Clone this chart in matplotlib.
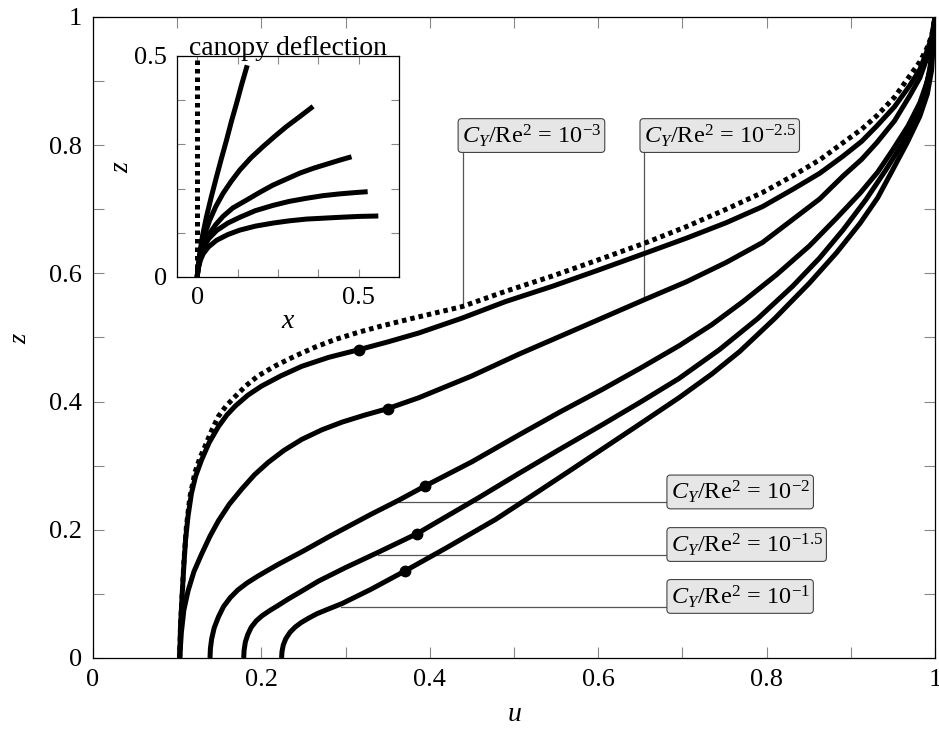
import matplotlib
matplotlib.use("Agg")
import matplotlib.pyplot as plt

plt.rcParams['font.family'] = ['Liberation Serif', 'DejaVu Serif']
plt.rcParams['mathtext.fontset'] = 'custom'
plt.rcParams['mathtext.rm'] = 'Liberation Serif'
plt.rcParams['mathtext.it'] = 'Liberation Serif:italic'
plt.rcParams['mathtext.bf'] = 'Liberation Serif:bold'

# velocity profiles u(z)
u_rigid = [0.103, 0.104, 0.106, 0.108, 0.111, 0.115, 0.121, 0.127, 0.133, 0.141, 0.149, 0.158, 0.169,
           0.182, 0.196, 0.217, 0.240, 0.264, 0.288, 0.315, 0.343, 0.380, 0.438, 0.490, 0.546, 0.600,
           0.657, 0.705, 0.752, 0.795, 0.831, 0.863, 0.891, 0.913, 0.931, 0.952, 0.970, 0.982, 0.990,
           0.996, 1.0]
z_rigid = [0.0, 0.05, 0.10, 0.15, 0.205, 0.250, 0.289, 0.312, 0.330, 0.355, 0.377, 0.393, 0.408,
           0.425, 0.440, 0.456, 0.471, 0.485, 0.497, 0.508, 0.518, 0.530, 0.548, 0.572, 0.596, 0.621,
           0.648, 0.673, 0.700, 0.726, 0.752, 0.777, 0.804, 0.825, 0.846, 0.875, 0.908, 0.930, 0.950,
           0.970, 1.0]

u_m30 = [0.103, 0.104, 0.106, 0.108, 0.110, 0.113, 0.117, 0.122, 0.129, 0.138, 0.149, 0.159, 0.169,
         0.184, 0.200, 0.223, 0.248, 0.280, 0.316, 0.350, 0.387, 0.438, 0.490, 0.546, 0.600, 0.657,
         0.705, 0.752, 0.795, 0.831, 0.863, 0.891, 0.913, 0.931, 0.952, 0.970, 0.982, 0.990, 0.996, 1.0]
z_m30 = [0.0, 0.05, 0.10, 0.145, 0.185, 0.222, 0.257, 0.284, 0.309, 0.336, 0.361, 0.379, 0.393,
         0.410, 0.424, 0.440, 0.455, 0.469, 0.481, 0.493, 0.507, 0.530, 0.556, 0.580, 0.605, 0.632,
         0.655, 0.679, 0.704, 0.731, 0.756, 0.783, 0.806, 0.830, 0.860, 0.893, 0.918, 0.945, 0.968, 1.0]

u_m25 = [0.103, 0.105, 0.108, 0.113, 0.120, 0.129, 0.139, 0.149, 0.162, 0.177, 0.192, 0.208, 0.227,
         0.248, 0.272, 0.296, 0.323, 0.350, 0.387, 0.450, 0.506, 0.585, 0.655, 0.705, 0.752, 0.795,
         0.831, 0.863, 0.891, 0.913, 0.931, 0.952, 0.970, 0.982, 0.990, 0.996, 1.0]
z_m25 = [0.0, 0.04, 0.075, 0.105, 0.135, 0.162, 0.190, 0.214, 0.240, 0.264, 0.286, 0.305, 0.324,
         0.341, 0.356, 0.368, 0.379, 0.389, 0.406, 0.440, 0.474, 0.519, 0.559, 0.587, 0.617, 0.648,
         0.684, 0.716, 0.752, 0.778, 0.804, 0.838, 0.877, 0.905, 0.934, 0.962, 1.0]

u_m20 = [0.139, 0.1395, 0.141, 0.144, 0.149, 0.155, 0.163, 0.172, 0.183, 0.195, 0.208, 0.220, 0.250,
         0.280, 0.330, 0.363, 0.394, 0.450, 0.506, 0.555, 0.605, 0.650, 0.696, 0.735, 0.772, 0.812,
         0.851, 0.883, 0.911, 0.932, 0.950, 0.968, 0.982, 0.991, 0.996, 1.0]
z_m20 = [0.0, 0.015, 0.03, 0.047, 0.064, 0.080, 0.094, 0.106, 0.117, 0.127, 0.137, 0.146, 0.167,
         0.189, 0.224, 0.246, 0.268, 0.306, 0.348, 0.384, 0.419, 0.452, 0.487, 0.520, 0.556, 0.598,
         0.643, 0.686, 0.725, 0.758, 0.793, 0.830, 0.866, 0.900, 0.934, 1.0]

u_m15 = [0.179, 0.1795, 0.181, 0.184, 0.188, 0.194, 0.201, 0.210, 0.220, 0.232, 0.245, 0.268, 0.300,
         0.339, 0.385, 0.411, 0.458, 0.506, 0.555, 0.605, 0.650, 0.696, 0.744, 0.790, 0.831, 0.863,
         0.891, 0.918, 0.942, 0.960, 0.974, 0.986, 0.994, 1.0]
z_m15 = [0.0, 0.012, 0.025, 0.037, 0.048, 0.058, 0.066, 0.074, 0.082, 0.092, 0.102, 0.120, 0.141,
         0.165, 0.194, 0.214, 0.250, 0.288, 0.326, 0.364, 0.399, 0.436, 0.481, 0.530, 0.580, 0.624,
         0.668, 0.715, 0.762, 0.800, 0.834, 0.875, 0.917, 1.0]

u_m10 = [0.224, 0.2245, 0.226, 0.229, 0.234, 0.240, 0.247, 0.256, 0.266, 0.277, 0.296, 0.330, 0.371,
         0.420, 0.478, 0.520, 0.565, 0.605, 0.645, 0.696, 0.735, 0.768, 0.810, 0.851, 0.883, 0.911,
         0.932, 0.950, 0.967, 0.982, 0.991, 0.996, 1.0]
z_m10 = [0.0, 0.010, 0.020, 0.030, 0.040, 0.048, 0.055, 0.062, 0.069, 0.075, 0.085, 0.107, 0.136,
         0.172, 0.216, 0.252, 0.291, 0.326, 0.361, 0.406, 0.443, 0.478, 0.530, 0.585, 0.632, 0.678,
         0.718, 0.762, 0.804, 0.845, 0.880, 0.917, 1.0]

# canopy tips
tip_u = [0.316, 0.350, 0.394, 0.385, 0.371]
tip_z = [0.481, 0.389, 0.268, 0.194, 0.136]

# canopy shapes (inset)
x_c30 = [0.0, 0.002, 0.008, 0.017, 0.029, 0.044, 0.060, 0.075, 0.091, 0.106, 0.122, 0.138, 0.155]
y_c30 = [0.0, 0.015, 0.054, 0.095, 0.137, 0.182, 0.227, 0.268, 0.310, 0.352, 0.393, 0.436, 0.479]
x_c25 = [0.0, 0.003, 0.013, 0.025, 0.039, 0.058, 0.080, 0.105, 0.132, 0.167, 0.204, 0.240, 0.276,
         0.318, 0.359]
y_c25 = [0.0, 0.025, 0.069, 0.100, 0.129, 0.160, 0.189, 0.216, 0.242, 0.270, 0.295, 0.318, 0.340,
         0.363, 0.386]
x_c20 = [0.0, 0.003, 0.013, 0.025, 0.039, 0.058, 0.080, 0.110, 0.153, 0.195, 0.235, 0.278, 0.318,
         0.360, 0.400, 0.440, 0.478]
y_c20 = [0.0, 0.02, 0.054, 0.080, 0.099, 0.119, 0.137, 0.156, 0.174, 0.192, 0.208, 0.222, 0.235,
         0.246, 0.255, 0.264, 0.272]
x_c15 = [0.0, 0.003, 0.010, 0.019, 0.035, 0.060, 0.095, 0.132, 0.180, 0.235, 0.285, 0.338, 0.390,
         0.441, 0.490, 0.528]
y_c15 = [0.0, 0.02, 0.045, 0.065, 0.086, 0.105, 0.122, 0.135, 0.150, 0.162, 0.171, 0.178, 0.184,
         0.188, 0.191, 0.193]
x_c10 = [0.0, 0.003, 0.010, 0.019, 0.035, 0.060, 0.095, 0.132, 0.180, 0.235, 0.285, 0.338, 0.390,
         0.441, 0.500, 0.561]
y_c10 = [0.0, 0.018, 0.038, 0.053, 0.068, 0.083, 0.096, 0.106, 0.115, 0.122, 0.127, 0.131, 0.133,
         0.135, 0.137, 0.138]
x_rigid = [0.0, 0.0]
y_rigid = [0.0, 0.49]

labels = [r'$C_Y/\mathrm{Re}^2\,=\,10^{-3}$', r'$C_Y/\mathrm{Re}^2\,=\,10^{-2.5}$',
          r'$C_Y/\mathrm{Re}^2\,=\,10^{-2}$', r'$C_Y/\mathrm{Re}^2\,=\,10^{-1.5}$',
          r'$C_Y/\mathrm{Re}^2\,=\,10^{-1}$']

lw = 3.6
solid = dict(color='black', lw=lw, solid_capstyle='butt', solid_joinstyle='round')
dotted = dict(color='black', lw=lw, linestyle=(0, (0.9, 0.8)), dash_capstyle='butt')

fig = plt.figure(figsize=(9.39, 7.31), dpi=100)
ax = fig.add_axes([0.099, 0.0999, 0.8967, 0.8769])

ax.plot(u_rigid, z_rigid, **dotted)
for u, z in [(u_m30, z_m30), (u_m25, z_m25), (u_m20, z_m20), (u_m15, z_m15), (u_m10, z_m10)]:
    ax.plot(u, z, **solid)
ax.plot(tip_u, tip_z, 'o', color='black', ms=7.5, ls='none')

ax.set_xlim(0, 1)
ax.set_ylim(0, 1)
ticks = [i / 10 for i in range(11)]
tick_lbl = ['0', '', '0.2', '', '0.4', '', '0.6', '', '0.8', '', '1']
ax.set_xticks(ticks)
ax.set_xticklabels(tick_lbl)
ax.set_yticks(ticks)
ax.set_yticklabels(tick_lbl)
ax.tick_params(direction='in', length=8, width=0.8, color='#888888', labelsize=19,
               top=True, right=True, pad=8)
ax.set_xlabel('$u$', fontsize=20, labelpad=8)
ax.set_ylabel('$z$', fontsize=19, labelpad=13)
for s in ax.spines.values():
    s.set_linewidth(0.9)

# pin lines and label boxes
pin = dict(color='#555555', lw=0.9, zorder=1)
box = dict(boxstyle='round,pad=0.15,rounding_size=0.15', fc='#e6e6e6', ec='#444444', lw=0.8)
ax.plot([0.439, 0.439], [0.547, 0.789], **pin)
ax.plot([0.655, 0.655], [0.559, 0.789], **pin)
ax.plot([0.363, 0.683], [0.243, 0.243], **pin)
ax.plot([0.339, 0.683], [0.161, 0.161], **pin)
ax.plot([0.295, 0.683], [0.080, 0.080], **pin)
lab_x = [0.438, 0.654, 0.686, 0.686, 0.686]
lab_y = [0.815, 0.815, 0.259, 0.177, 0.096]
for x, y, t in zip(lab_x, lab_y, labels):
    ax.text(x, y, t, fontsize=17.5, ha='left', va='center', bbox=box)

# inset: canopy deflection
ins = fig.add_axes([0.1885, 0.6211, 0.2364, 0.3023])
ins.plot(x_rigid, y_rigid, **dotted)
for x, y in [(x_c30, y_c30), (x_c25, y_c25), (x_c20, y_c20), (x_c15, y_c15), (x_c10, y_c10)]:
    ins.plot(x, y, **solid)
ins.set_xlim(-0.0625, 0.625)
ins.set_ylim(0, 0.5)
ins.set_xticks([0, 0.125, 0.25, 0.375, 0.5])
ins.set_xticklabels(['0', '', '', '', '0.5'])
ins.set_yticks([0, 0.1, 0.2, 0.3, 0.4, 0.5])
ins.set_yticklabels(['0', '', '', '', '', '0.5'])
ins.tick_params(direction='in', length=6, width=0.8, color='#888888', labelsize=19,
                top=True, right=True, pad=7)
ins.set_xlabel('$x$', fontsize=20, labelpad=0)
ins.set_ylabel('$z$', fontsize=20, labelpad=0)
ins.set_title('canopy deflection', fontsize=20, pad=1)
for s in ins.spines.values():
    s.set_linewidth(0.9)

fig.savefig('out.png', dpi=100)
